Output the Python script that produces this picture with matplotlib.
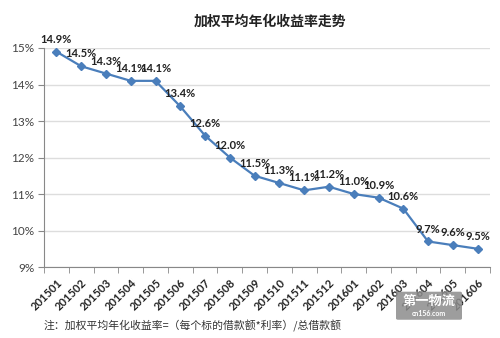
import numpy as np
import matplotlib.pyplot as plt
from matplotlib.ticker import FixedLocator
from matplotlib.patches import FancyBboxPatch

plt.rcParams['font.family'] = ['Lato', 'Noto Sans CJK SC', 'DejaVu Sans']

months = ['201501', '201502', '201503', '201504', '201505', '201506',
          '201507', '201508', '201509', '201510', '201511', '201512',
          '201601', '201602', '201603', '201604', '201605', '201606']
rates = [14.9, 14.5, 14.3, 14.1, 14.1, 13.4, 12.6, 12.0, 11.5,
         11.3, 11.1, 11.2, 11.0, 10.9, 10.6, 9.7, 9.6, 9.5]
y_ticks = [9, 10, 11, 12, 13, 14, 15]

title = '加权平均年化收益率走势'
note = '注：加权平均年化收益率=（每个标的借款额*利率）/总借款额'

blue = '#4A7EBB'

fig = plt.figure(figsize=(5, 3.38), dpi=100)
ax = fig.add_axes([0.088, 0.21, 0.892, 0.648])

x = np.arange(len(months))
ax.plot(x, rates, color=blue, lw=1.6, marker='D', ms=4, mec=blue, mfc=blue,
        clip_on=False)

for xi, v in zip(x, rates):
    ax.annotate(f'{v:.1f}%', (xi, v), xytext=(0, 5), textcoords='offset points',
                ha='center', va='bottom', fontsize=8, fontweight='bold',
                color='#222222')

ax.set_xlim(-0.5, len(months) - 0.5)
ax.set_ylim(9, 15)
ax.set_yticks(y_ticks)
ax.set_yticklabels([f'{t}%' for t in y_ticks], fontsize=8.5, color='#444444')
ax.yaxis.grid(True, color='#DDDDDD', lw=1)
ax.set_axisbelow(True)

ax.set_xticks(x)
ax.set_xticklabels(months, rotation=45, ha='right', rotation_mode='anchor',
                   fontsize=8, fontweight='bold', color='#222222')
ax.tick_params(axis='x', which='major', length=0, pad=7)
ax.xaxis.set_minor_locator(FixedLocator(np.arange(-0.5, len(months), 1)))
ax.tick_params(axis='x', which='minor', length=4, color='#888888')
ax.tick_params(axis='y', length=4, color='#888888', pad=3)

for side in ['top', 'right']:
    ax.spines[side].set_visible(False)
for side in ['left', 'bottom']:
    ax.spines[side].set_color('#888888')

fig.text(0.54, 0.935, title, ha='center', va='center', fontsize=10,
         fontweight='bold', family=['Noto Sans CJK SC'], color='#222222')
fig.text(0.088, 0.035, note, ha='left', va='center', fontsize=7.8,
         family=['Noto Sans CJK SC'], color='#333333')

# site logo in the lower right corner
logo = FancyBboxPatch((0.796, 0.058), 0.124, 0.075, transform=fig.transFigure,
                      boxstyle='round,pad=0.004', fc='#8C8C8C', ec='none',
                      alpha=0.85, zorder=5)
fig.patches.append(logo)
fig.text(0.858, 0.11, '第一物流', ha='center', va='center', fontsize=9.5,
         fontweight='bold', color='white', family=['Noto Sans CJK SC'], zorder=6)
fig.text(0.858, 0.072, 'cn156.com', ha='center', va='center', fontsize=5,
         fontweight='bold', color='white', zorder=6)

fig.savefig('out.png', dpi=100, facecolor='white')
